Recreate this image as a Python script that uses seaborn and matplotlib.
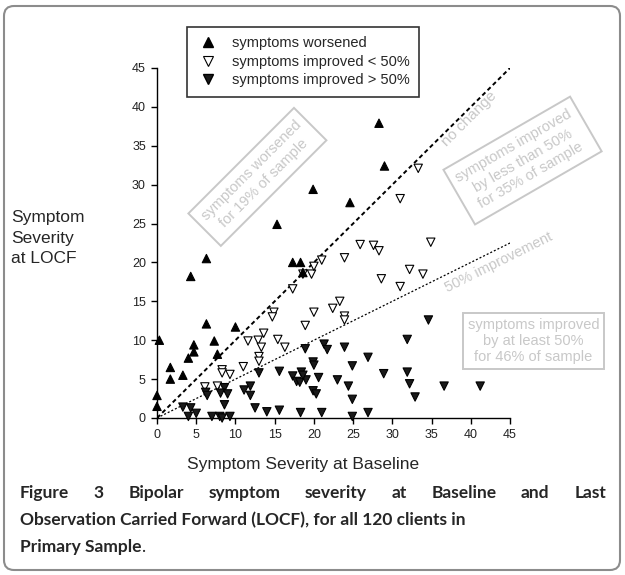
import numpy as np
import pandas as pd
import matplotlib
matplotlib.use("Agg")
import matplotlib.pyplot as plt
import seaborn as sns
from matplotlib.lines import Line2D
from matplotlib.patches import FancyBboxPatch

# scores: (baseline, LOCF) per client
worse_base = [0.3, 1.7, 1.7, 3.3, 4.0, 4.7, 4.7, 6.3, 7.3, 7.7, 10.0, 0.0, 0.0,
              4.3, 6.3, 15.3, 17.3, 18.3, 18.6, 19.9, 24.6, 28.3, 29.0]
worse_locf = [10.0, 6.5, 5.0, 5.5, 7.7, 9.4, 8.5, 12.1, 9.9, 8.2, 11.7, 2.9, 1.5,
              18.2, 20.5, 24.9, 20.0, 20.0, 18.7, 29.4, 27.7, 37.9, 32.4]

less_base = [33.3, 31.0, 34.9, 17.3, 18.6, 19.7, 20.0, 21.0, 20.0, 18.9, 14.9, 14.7,
             13.6, 12.9, 11.6, 13.3, 15.4, 16.3, 13.0, 13.0, 11.0, 8.3, 8.3, 9.3,
             6.1, 7.7, 25.9, 27.6, 28.3, 23.9, 32.2, 33.9, 28.6, 31.0, 23.3, 22.4,
             23.9, 23.9]
less_locf = [32.1, 28.2, 22.6, 16.6, 18.5, 18.5, 19.5, 20.3, 13.6, 11.9, 13.6, 13.0,
             10.9, 10.0, 9.9, 9.1, 10.1, 9.1, 7.9, 7.3, 6.6, 6.2, 5.8, 5.6,
             4.0, 4.1, 22.3, 22.2, 21.5, 20.6, 19.1, 18.5, 17.9, 16.9, 15.0, 14.1,
             13.1, 12.6]

more_base = [18.9, 6.2, 6.4, 8.6, 8.1, 9.0, 8.6, 3.3, 4.3, 4.0, 5.0, 7.0, 8.0, 8.3,
             9.3, 11.1, 11.9, 11.9, 12.5, 14.0, 15.6, 13.0, 15.6, 17.3, 17.8, 18.3,
             34.6, 31.9, 21.3, 21.7, 23.9, 26.9, 19.9, 20.0, 24.9, 18.4, 19.0, 18.2,
             20.6, 23.0, 24.4, 19.9, 20.3, 24.9, 28.9, 31.9, 32.2, 32.9, 36.6, 41.2,
             21.0, 24.9, 26.9, 18.6]
more_locf = [8.9, 3.3, 2.9, 3.9, 3.2, 3.1, 1.7, 1.4, 1.3, 0.2, 0.6, 0.2, 0.2, 0.0,
             0.2, 3.6, 4.1, 2.9, 1.3, 0.8, 1.0, 5.8, 6.0, 5.4, 4.7, 0.7,
             12.6, 10.1, 9.5, 8.8, 9.1, 7.8, 7.2, 6.8, 6.7, 5.9, 4.9, 4.6,
             5.2, 4.9, 4.1, 3.5, 3.1, 2.4, 5.7, 5.9, 4.4, 2.7, 4.1, 4.1,
             0.7, 0.2, 0.7, 5.5]

groups = ["symptoms worsened", "symptoms improved < 50%", "symptoms improved > 50%"]
ticks = [0, 5, 10, 15, 20, 25, 30, 35, 40, 45]
ref_x = [0, 45]

df = pd.concat([
    pd.DataFrame({"baseline": less_base, "locf": less_locf, "group": groups[1]}),
    pd.DataFrame({"baseline": more_base, "locf": more_locf, "group": groups[2]}),
    pd.DataFrame({"baseline": worse_base, "locf": worse_locf, "group": groups[0]}),
])

sns.set_theme(style="ticks")
plt.rcParams["font.family"] = ["Liberation Sans", "DejaVu Sans"]

W, H = 625, 575
fig = plt.figure(figsize=(6.25, 5.75), dpi=100)
ax = fig.add_axes([157 / W, 1 - 418 / H, 353 / W, 350 / H])

gray = "#c8c8c8"

# reference lines: no change, 50% improvement
ax.plot(ref_x, ref_x, color="black", lw=1.4, ls=(0, (2.2, 1.6)), zorder=2)
ax.plot(ref_x, [v / 2 for v in ref_x], color="black", lw=0.9, ls=(0, (1.6, 1.6)), zorder=2)

sns.scatterplot(
    data=df, x="baseline", y="locf", hue="group", style="group",
    markers={groups[0]: "^", groups[1]: "v", groups[2]: "v"},
    palette={groups[0]: "black", groups[1]: "white", groups[2]: "#1a1a1a"},
    edgecolor="black", linewidth=0.8, s=36, legend=False, ax=ax,
    clip_on=False, zorder=3,
)

ax.set_xlim(0, 45)
ax.set_ylim(0, 45)
ax.set_xticks(ticks)
ax.set_yticks(ticks)
ax.set_xlabel("")
ax.set_ylabel("")
sns.despine(ax=ax)
for sp in ["left", "bottom"]:
    ax.spines[sp].set_color("black")
    ax.spines[sp].set_linewidth(1.0)
ax.tick_params(direction="out", length=4, width=1, color="black",
               labelsize=9, labelcolor="#222222", pad=4)

# gray annotations
ax.text(39.8, 38.5, "no change", rotation=45, rotation_mode="anchor",
        ha="center", va="center", fontsize=11, color=gray)
ax.text(43.6, 20.0, "50% improvement", rotation=26.5, rotation_mode="anchor",
        ha="center", va="center", fontsize=10.5, color=gray, clip_on=False)
box = dict(boxstyle="square,pad=0.5", fc="none", ec=gray, lw=1.4)
ax.text(12.8, 31.0, "symptoms worsened\nfor 19% of sample", rotation=45,
        rotation_mode="anchor", ha="center", va="center", fontsize=10.5,
        color=gray, linespacing=1.3, bbox=box)
ax.text(46.6, 33.1, "symptoms improved\nby less than 50%\nfor 35% of sample",
        rotation=30, rotation_mode="anchor", ha="center", va="center",
        fontsize=10.5, color=gray, linespacing=1.3, bbox=box)
ax.text(48.0, 9.9, "symptoms improved\nby at least 50%\nfor 46% of sample",
        ha="center", va="center", fontsize=10.5, color=gray, linespacing=1.15,
        bbox=dict(boxstyle="square,pad=0.35", fc="none", ec=gray, lw=1.4))

# legend
handles = [
    Line2D([], [], marker="^", ls="none", mfc="black", mec="black", ms=7),
    Line2D([], [], marker="v", ls="none", mfc="white", mec="black", ms=7, mew=0.8),
    Line2D([], [], marker="v", ls="none", mfc="#1a1a1a", mec="black", ms=7),
]
leg = fig.legend(handles, groups, loc="upper left", bbox_to_anchor=(187 / W, 1 - 27 / H),
                 frameon=True, fancybox=False, edgecolor="black", fontsize=10.5,
                 handletextpad=0.85, labelspacing=0.3, borderpad=0.65,
                 handlelength=1.6, borderaxespad=0)
leg.get_frame().set_linewidth(1.2)

# axis titles
fig.text(11 / W, 1 - 238 / H, "Symptom\nSeverity\nat LOCF", ha="left", va="center",
         fontsize=12.5, linespacing=1.45)
fig.text(303 / W, 1 - 465 / H, "Symptom Severity at Baseline", ha="center",
         va="center", fontsize=12.5)

# caption, first line justified
cap_font = dict(family=["Lato", "DejaVu Sans"], fontsize=12.5, fontweight="bold")
line1 = "Figure 3 Bipolar symptom severity at Baseline and Last".split()
fig.canvas.draw()
renderer = fig.canvas.get_renderer()
words = [fig.text(0, 1 - 493 / H, w, va="center", ha="left", **cap_font) for w in line1]
widths = [t.get_window_extent(renderer).width for t in words]
gap = (606 - 20 - sum(widths)) / (len(words) - 1)
x = 20
for t, w in zip(words, widths):
    t.set_x(x / W)
    x += w + gap
fig.text(20 / W, 1 - 520 / H, "Observation Carried Forward (LOCF), for all 120 clients in",
         va="center", ha="left", **cap_font)
t3 = fig.text(20 / W, 1 - 547 / H, "Primary Sample", va="center", ha="left", **cap_font)
w3 = t3.get_window_extent(renderer).width
fig.text((20 + w3) / W, 1 - 547 / H, ".", va="center", ha="left",
         family=["Lato", "DejaVu Sans"], fontsize=12.5)

# rounded frame around the figure
frame = FancyBboxPatch((4 / W, 5 / H), 616 / W, 564 / H, transform=fig.transFigure,
                       boxstyle="round,pad=0,rounding_size=0.016",
                       mutation_aspect=W / H, fill=False, ec="#8c8c8c", lw=1.5)
fig.patches.append(frame)

fig.savefig("out.png", dpi=100)
